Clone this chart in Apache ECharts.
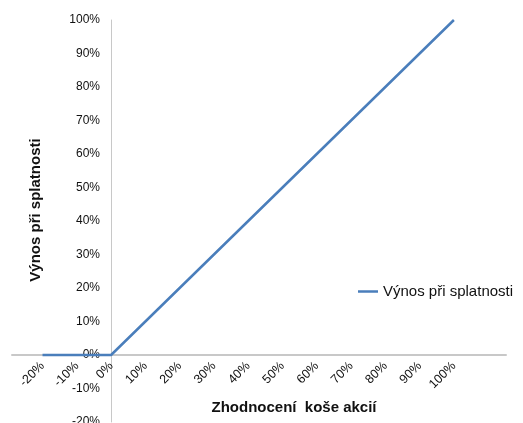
<!DOCTYPE html>
<html>
<head>
<meta charset="utf-8">
<script src="https://cdn.jsdelivr.net/npm/echarts@6/dist/echarts.min.js"></script>
<style>
  html, body { margin: 0; padding: 0; background: #fff; }
  #chart { width: 523px; height: 423px; }
</style>
</head>
<body>
<div id="chart"></div>
<script>
// zhodnocení koše akcií (x) vs. výnos při splatnosti (y), v %
const basketReturn = [-20, -10, 0, 10, 20, 30, 40, 50, 60, 70, 80, 90, 100]
const maturityYield = [0, 0, 0, 10, 20, 30, 40, 50, 60, 70, 80, 90, 100]
const xTicks = [-20, -10, 0, 10, 20, 30, 40, 50, 60, 70, 80, 90, 100]
const yTicks = [-20, -10, 0, 10, 20, 30, 40, 50, 60, 70, 80, 90, 100]

const seriesName = 'Výnos při splatnosti'
const font = '"Liberation Sans", Arial, sans-serif'

const chart = echarts.init(document.getElementById('chart'))

chart.setOption({
  animation: false,
  textStyle: { fontFamily: font },
  grid: { left: 12, right: 17, top: 20, bottom: 1, outerBoundsMode: 'none', containLabel: false },
  legend: {
    data: [seriesName],
    left: 353,
    top: 279,
    icon: 'rect',
    itemWidth: 20,
    itemHeight: 2.5,
    itemGap: 4,
    textStyle: { fontSize: 15, color: '#111', fontFamily: font }
  },
  xAxis: {
    type: 'value',
    min: -28.9,
    max: 115.2,
    position: 'bottom',
    offset: -67,
    axisLine: { onZero: false, lineStyle: { color: '#c8c8c8', width: 2 } },
    axisTick: { show: false },
    splitLine: { show: false },
    axisLabel: {
      customValues: xTicks,
      rotate: 45,
      margin: 9,
      fontSize: 12.5,
      color: '#111',
      formatter: (v) => `${v}%`
    }
  },
  yAxis: {
    type: 'value',
    min: -20,
    max: 100,
    position: 'left',
    offset: -99,
    axisLine: { show: true, onZero: false, lineStyle: { color: '#c8c8c8', width: 1 } },
    axisTick: { show: false },
    splitLine: { show: false },
    axisLabel: {
      customValues: yTicks,
      margin: 11,
      fontSize: 12,
      color: '#111',
      formatter: (v) => `${v}%`
    }
  },
  graphic: [
    {
      type: 'text',
      x: 294,
      y: 408,
      style: {
        text: 'Zhodnocení  koše akcií',
        font: `bold 15px ${font}`,
        fill: '#111',
        align: 'center',
        verticalAlign: 'middle'
      }
    },
    {
      type: 'text',
      x: 36,
      y: 210,
      rotation: Math.PI / 2,
      style: {
        text: 'Výnos při splatnosti',
        font: `bold 15px ${font}`,
        fill: '#111',
        align: 'center',
        verticalAlign: 'middle'
      }
    }
  ],
  series: [
    {
      name: seriesName,
      type: 'line',
      symbol: 'none',
      lineStyle: { color: '#4a7ebb', width: 2.5 },
      itemStyle: { color: '#4a7ebb' },
      data: basketReturn.map((x, i) => [x, maturityYield[i]])
    }
  ]
})
</script>
</body>
</html>
